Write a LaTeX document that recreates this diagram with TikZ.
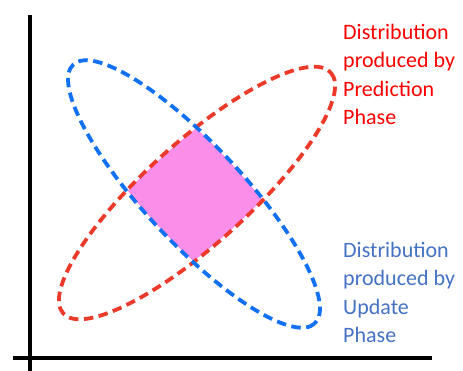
\documentclass[tikz,border=0pt]{standalone}
\usepackage{fontspec}
\setmainfont{Carlito}
\definecolor{predred}{RGB}{236,58,42}
\definecolor{updblue}{RGB}{18,112,242}
\definecolor{overlap}{RGB}{250,142,232}
\definecolor{updtext}{RGB}{68,114,196}

\begin{document}
\begin{tikzpicture}[x=1pt,y=-1pt,
    axisline/.style={line width=4pt},
    distline/.style={line width=3.8pt,dash pattern=on 9.5pt off 5.5pt},
    label/.style={inner sep=0pt,anchor=north west,align=left,
                  font=\fontsize{22}{28.5}\selectfont}]
\useasboundingbox (0,0) rectangle (463,371);
% the pink part is where both distributions overlap
\begin{scope}
  \clip[rotate around={42:(197,193)}] (197,193) ellipse [x radius=180, y radius=50];
  \fill[overlap,rotate around={-47:(194,194)}] (194,194) ellipse [x radius=177, y radius=48];
\end{scope}
% prediction phase (red) and update phase (blue)
\draw[distline,predred,rotate around={42:(197,193)}] (197,193) ellipse [x radius=180, y radius=51];
\draw[distline,updblue,rotate around={-47:(194,194)}] (194,194) ellipse [x radius=177, y radius=49];
% axes
\coordinate (ytop) at (30,15);
\coordinate (ybot) at (30,371);
\coordinate (xleft) at (13,358);
\coordinate (xright) at (432,358);
\draw[axisline] (ytop) -- (ybot);
\draw[axisline] (xleft) -- (xright);
% labels
\node[label,text=red] (predtext) at (343,24) {Distribution\\produced by\\Prediction\\Phase};
\node[label,text=updtext] (updtext) at (343,242) {Distribution\\produced by\\Update\\Phase};
\end{tikzpicture}
\end{document}
